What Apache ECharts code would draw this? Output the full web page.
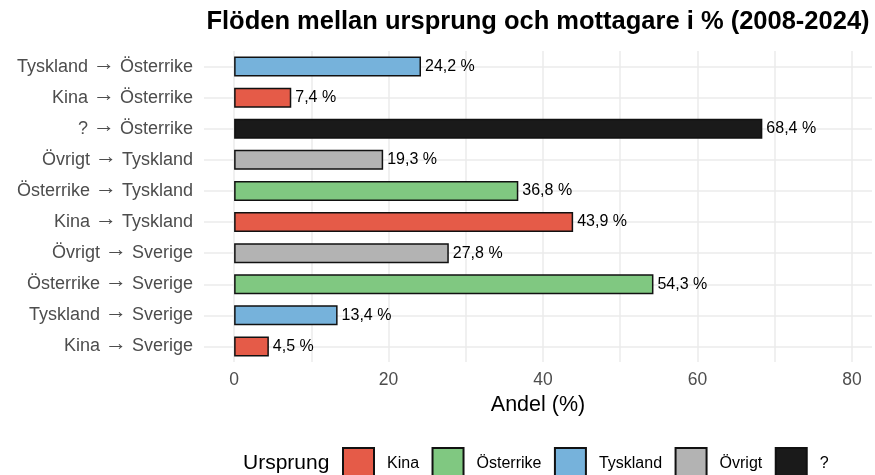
<!DOCTYPE html>
<html>
<head>
<meta charset="utf-8">
<script src="https://cdn.jsdelivr.net/npm/echarts@6/dist/echarts.min.js"></script>
<style>
  html, body { margin: 0; padding: 0; background: #fff; }
  #main { width: 875px; height: 475px; }
</style>
</head>
<body>
<div id="main"></div>
<script>
// data, top to bottom as in the chart
const categories = [
  'Tyskland → Österrike', 'Kina → Österrike', '? → Österrike',
  'Övrigt → Tyskland', 'Österrike → Tyskland', 'Kina → Tyskland',
  'Övrigt → Sverige', 'Österrike → Sverige', 'Tyskland → Sverige', 'Kina → Sverige'
];
const shares = [24.2, 7.4, 68.4, 19.3, 36.8, 43.9, 27.8, 54.3, 13.4, 4.5];
const origins = ['Tyskland', 'Kina', '?', 'Övrigt', 'Österrike', 'Kina', 'Övrigt', 'Österrike', 'Tyskland', 'Kina'];
const originOrder = ['Kina', 'Österrike', 'Tyskland', 'Övrigt', '?'];
const originColors = ['#e55b48', '#80c881', '#76b2db', '#b3b3b3', '#1a1a1a'];
const gridTicks = [0, 10, 20, 30, 40, 50, 60, 70, 80];
const labelTicks = [0, 20, 40, 60, 80];

const font = 'Liberation Sans, Arial, DejaVu Sans, sans-serif';

let myChart = echarts.init(document.getElementById('main'));

// one series per origin so the legend gets its own entries
let series = originOrder.map(function (o, k) {
  return {
    name: o,
    type: 'bar',
    barWidth: 20,
    barGap: '-100%',
    itemStyle: {
      color: originColors[k],
      borderColor: '#111',
      borderWidth: 1.5
    },
    label: {
      show: true,
      position: 'right',
      distance: 4,
      color: '#000',
      fontFamily: font,
      fontSize: 16,
      formatter: function (p) {
        return p.value.toFixed(1).replace('.', ',') + ' %';
      }
    },
    data: shares.map(function (v, i) { return origins[i] === o ? v : null; })
  };
});

// category centres, used for the horizontal grid lines
let rowIdx = categories.map(function (c, i) { return i; });

let option = {
  animation: false,
  grid: { left: 204, right: 3, top: 51, bottom: 113 },
  xAxis: {
    type: 'value',
    min: -3.9,
    max: 82.6,
    name: 'Andel (%)',
    nameLocation: 'middle',
    nameGap: 31,
    nameTextStyle: { fontFamily: font, fontSize: 21.5, color: '#000' },
    axisLine: { show: false },
    axisTick: { show: false, customValues: gridTicks },
    axisLabel: {
      customValues: labelTicks,
      fontFamily: font, fontSize: 17.5, color: '#4d4d4d', margin: 9
    },
    splitLine: { show: true, lineStyle: { color: '#ebebeb', width: 1.5 } }
  },
  yAxis: [{
    type: 'category',
    inverse: true,
    data: categories,
    axisLine: { show: false },
    axisTick: { show: false },
    axisLabel: {
      fontFamily: font, fontSize: 18, color: '#4d4d4d', margin: 11,
      // the arrow is drawn a bit wider, as in the original
      formatter: function (v) { return v.replace('→', '{a|→}'); },
      rich: { a: { fontFamily: font, fontSize: 22, color: '#4d4d4d', padding: [0, 0, 6, 0] } }
    },
    splitLine: { show: false }
  }, {
    type: 'value',
    inverse: true,
    min: -0.5,
    max: categories.length - 0.5,
    axisLine: { show: false },
    axisTick: { show: false, customValues: rowIdx },
    axisLabel: { show: false },
    splitLine: { show: true, lineStyle: { color: '#ebebeb', width: 1.5 } }
  }],
  legend: {
    data: originOrder,
    left: 342,
    top: 447,
    padding: 0,
    icon: 'rect',
    itemWidth: 31,
    itemHeight: 31,
    itemGap: 12.5,
    textStyle: { fontFamily: font, fontSize: 16, color: '#000', padding: [0, 0, 0, 8] }
  },
  graphic: [
    {
      type: 'text',
      x: 538,
      y: 22,
      style: {
        text: 'Flöden mellan ursprung och mottagare i % (2008-2024)',
        fontFamily: font, fontSize: 25.5, fontWeight: 'bold', fill: '#000',
        align: 'center', verticalAlign: 'middle'
      }
    },
    {
      type: 'text',
      x: 243,
      y: 463,
      style: {
        text: 'Ursprung',
        fontFamily: font, fontSize: 21, fill: '#000',
        align: 'left', verticalAlign: 'middle'
      }
    }
  ],
  series: series
};

myChart.setOption(option);
</script>
</body>
</html>
